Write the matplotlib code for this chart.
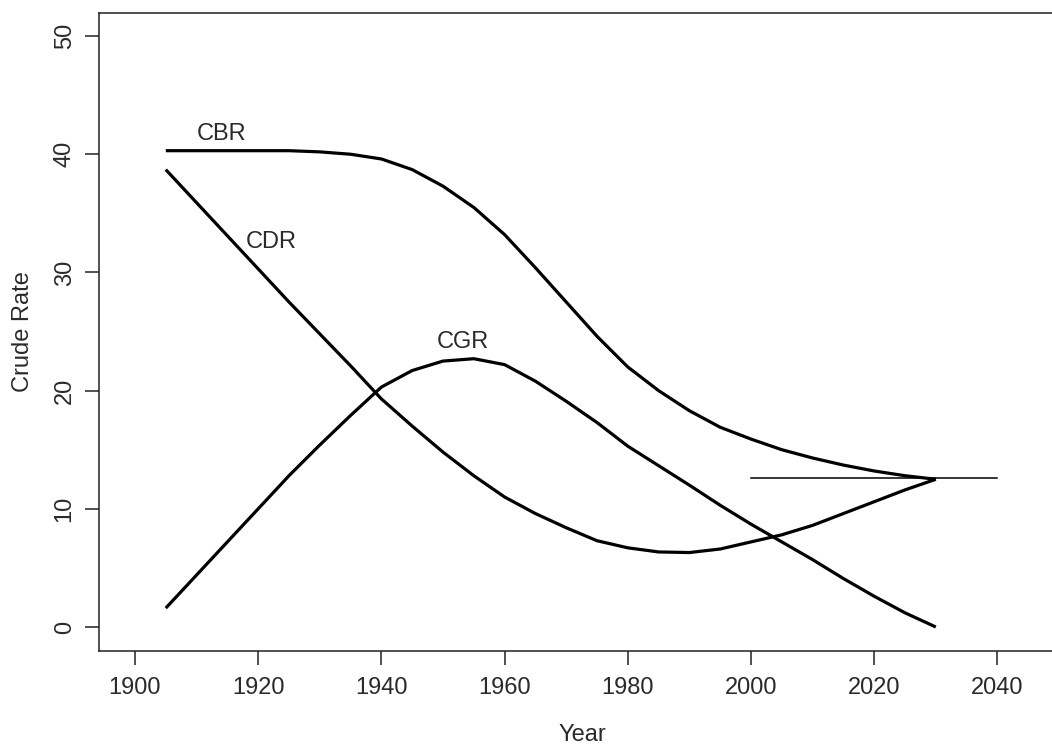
import matplotlib
matplotlib.use("Agg")
import matplotlib.pyplot as plt

years = [1905, 1910, 1915, 1920, 1925, 1930, 1935, 1940, 1945, 1950, 1955, 1960, 1965,
         1970, 1975, 1980, 1985, 1990, 1995, 2000, 2005, 2010, 2015, 2020, 2025, 2030]
cbr = [40.3, 40.3, 40.3, 40.3, 40.3, 40.2, 40.0, 39.6, 38.7, 37.3, 35.5, 33.2, 30.4,
       27.5, 24.6, 22.0, 20.0, 18.3, 16.9, 15.9, 15.0, 14.3, 13.7, 13.2, 12.8, 12.5]
cdr = [38.7, 35.9, 33.1, 30.3, 27.5, 24.8, 22.1, 19.3, 17.0, 14.8, 12.8, 11.0, 9.6,
       8.4, 7.3, 6.7, 6.35, 6.3, 6.6, 7.2, 7.8, 8.6, 9.6, 10.6, 11.6, 12.5]
cgr = [1.6, 4.4, 7.2, 10.0, 12.8, 15.4, 17.9, 20.3, 21.7, 22.5, 22.7, 22.2, 20.8,
       19.1, 17.3, 15.3, 13.65, 12.0, 10.3, 8.7, 7.2, 5.7, 4.1, 2.6, 1.2, 0.0]
ref_years = [2000, 2040]
ref_value = [12.6, 12.6]

series_labels = ["CBR", "CDR", "CGR"]
label_pos = [(1914.0, 41.7), (1922.2, 32.6), (1953.2, 24.1)]

xticks = [1900, 1920, 1940, 1960, 1980, 2000, 2020, 2040]
yticks = [0, 10, 20, 30, 40, 50]

plt.rcParams['font.family'] = ['Liberation Sans', 'DejaVu Sans']
text_color = '#2a2a2a'
fs = 17

fig = plt.figure(figsize=(10.52, 7.46), dpi=100)
ax = fig.add_axes([99/1052, 95/746, 966/1052, 638/746])

lw = 2.3
for ys in (cbr, cdr, cgr):
    ax.plot(years, ys, color='black', lw=lw, solid_capstyle='butt', solid_joinstyle='round')
ax.plot(ref_years, ref_value, color='black', lw=1.1)

for lab, (lx, ly) in zip(series_labels, label_pos):
    ax.text(lx, ly, lab, ha='center', va='center', fontsize=fs, color=text_color)

ax.set_xlim(1894.16, 2050.97)
ax.set_ylim(-2.03, 51.95)
ax.set_xticks(xticks)
ax.set_yticks(yticks)
ax.tick_params(axis='both', direction='out', length=9.8, width=1.1, color='#222222',
               labelsize=fs, labelcolor=text_color)
ax.tick_params(axis='x', pad=9)
ax.tick_params(axis='y', pad=7, labelrotation=90)
for lab in ax.get_yticklabels():
    lab.set_va('center')

for sp in ax.spines.values():
    sp.set_linewidth(1.1)
    sp.set_color('#222222')

ax.set_xlabel('Year', fontsize=fs, color=text_color)
ax.xaxis.label.set_va('center')
ax.xaxis.set_label_coords(0.5, (651 - 735) / 638)
ax.set_ylabel('Crude Rate', fontsize=fs, color=text_color)
ax.yaxis.label.set_va('center')
ax.yaxis.set_label_coords((23 - 99) / 966, 0.5)

fig.savefig('out.png', dpi=100)
